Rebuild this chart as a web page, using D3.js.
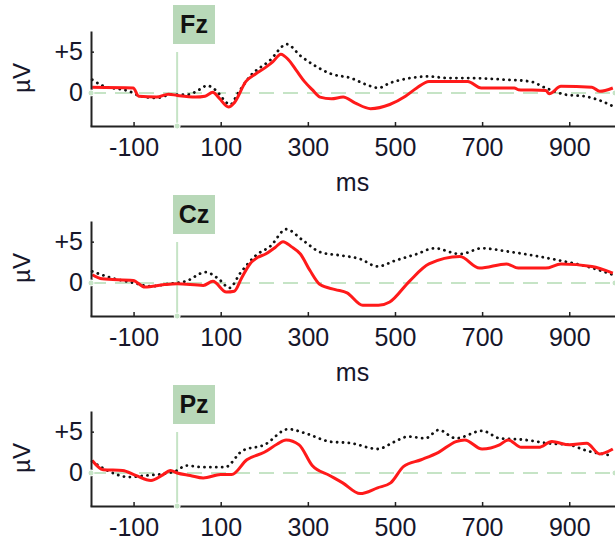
<!DOCTYPE html>
<html>
<head>
<meta charset="utf-8">
<script src="https://cdn.jsdelivr.net/npm/d3@7"></script>
<style>
  body { margin: 0; background: #fff; }
  svg { display: block; font-family: "Liberation Sans", Arial, sans-serif; }
</style>
</head>
<body>
<svg id="chart" width="615" height="541"></svg>
<script>
const channels = ["Fz", "Cz", "Pz"]
const xTickValues = [-100, 100, 300, 500, 700, 900]
const yTickValues = [0, 5]
const yTickLabels = ["0", "+5"]

// [ms, µV]
const fzRed = [[-195,0.7],[-101,0.6],[-88,-0.4],[-47,-0.5],[-20,-0.15],[0,-0.3],[42,-0.5],[64,-0.4],[82,0.1],[96,-0.6],[118,-1.7],[131,-1.2],[158,1.4],[180,2.3],[203,3.1],[220,3.8],[238,4.7],[256,4.0],[274,2.7],[292,1.4],[310,0.4],[328,-0.5],[354,-0.7],[381,-0.5],[408,-1.2],[444,-1.9],[488,-1.4],[524,-0.4],[550,0.6],[578,1.4],[667,1.4],[698,0.6],[774,0.6],[783,0.4],[846,0.3],[854,-0.1],[881,0.8],[952,0.7],[970,0.2],[1000,0.6]]
const fzBlack = [[-195,1.6],[-172,0.9],[-110,0.2],[-83,-0.4],[-47,-0.6],[-12,-0.2],[24,-0.2],[51,0.4],[69,0.9],[87,0.4],[122,-1.4],[140,0],[167,2.0],[212,3.9],[252,5.9],[283,4.5],[310,3.5],[354,2.3],[399,1.8],[435,1.0],[462,0.6],[488,1.2],[524,1.7],[578,2.0],[622,1.8],[667,1.8],[756,1.6],[810,1.4],[846,0.6],[891,-0.2],[935,-0.4],[970,-0.9],[1000,-1.6]]
const czRed = [[-195,1.0],[-172,0.5],[-101,0.3],[-74,-0.5],[-29,-0.2],[0,-0.1],[60,-0.3],[82,0.2],[113,-1.1],[131,-1.0],[148,0.6],[167,2.3],[185,3.1],[203,3.5],[225,4.3],[243,5.0],[262,4.4],[283,3.5],[305,1.5],[328,-0.2],[363,-0.8],[390,-1.2],[426,-2.7],[462,-2.7],[488,-2.3],[533,0.2],[578,2.3],[649,3.2],[694,1.8],[756,2.3],[783,1.8],[846,1.8],[881,2.3],[952,2.0],[1000,1.2]]
const czBlack = [[-195,1.4],[-150,0.6],[-100,0],[-60,-0.4],[-20,-0.1],[20,0.2],[65,1.3],[95,0.5],[120,-0.6],[145,1.2],[180,3.3],[215,4.5],[250,6.5],[290,5.1],[330,3.7],[380,3.3],[420,2.9],[460,2.0],[500,2.7],[550,3.5],[590,4.2],[650,3.5],[700,4.2],[760,3.8],[820,3.3],[880,2.7],[940,2.0],[1000,1.0]]
const pzRed = [[-195,1.5],[-170,0.4],[-125,0.3],[-95,-0.3],[-60,-0.9],[-35,-0.3],[-15,0.3],[0,0],[30,-0.3],[60,-0.6],[100,-0.2],[125,-0.2],[160,1.6],[200,2.5],[230,3.5],[250,4.0],[280,3.4],[310,0.9],[350,-0.3],[380,-1.2],[420,-2.5],[460,-1.8],[490,-1.2],[520,0.8],[560,1.6],[600,2.5],[640,3.8],[660,4.0],[700,2.9],[740,3.4],[760,4.0],[790,3.1],[830,3.1],[860,3.8],[900,3.4],[940,3.6],[970,2.3],[1000,2.9]]
const pzBlack = [[-195,1.4],[-160,0.3],[-110,-0.5],[-70,-0.3],[-30,-0.1],[0,0.3],[20,0.9],[60,0.7],[110,0.7],[150,2.7],[200,3.4],[255,5.3],[300,4.7],[350,3.8],[400,3.6],[460,2.9],[500,3.8],[530,4.4],[570,4.2],[600,5.2],[640,4.2],[700,5.1],[740,4.2],[800,4.0],[850,3.6],[900,3.4],[940,2.7],[1000,2.1]]

const redSeries = [fzRed, czRed, pzRed]
const blackSeries = [fzBlack, czBlack, pzBlack]

const panelTop = [0, 190, 380]
const green = "#c6e4c6"

var svg = d3.select("#chart")

var x = d3.scaleLinear()
    .domain([-200, 1005])
    .range([90, 615])

var y = d3.scaleLinear()
    .domain([-4, 7.5])
    .range([126, 31])

var line = d3.line()
    .x(d => x(d[0]))
    .y(d => y(d[1]))
    .curve(d3.curveMonotoneX)

channels.forEach((name, i) => {
    let g = svg.append("g").attr("transform", `translate(0,${panelTop[i]})`)

    // zero reference (dashed) and stimulus onset (solid)
    g.append("line")
        .attr("x1", x.range()[0] + 1).attr("x2", x.range()[1])
        .attr("y1", y(0)).attr("y2", y(0))
        .attr("stroke", green).attr("stroke-width", 2)
        .attr("stroke-dasharray", "15,9")
    g.append("line")
        .attr("x1", x(0)).attr("x2", x(0))
        .attr("y1", 52).attr("y2", y.range()[0])
        .attr("stroke", green).attr("stroke-width", 2)

    g.append("path")
        .datum(blackSeries[i])
        .attr("d", line)
        .attr("fill", "none")
        .attr("stroke", "#111")
        .attr("stroke-width", 2.8)
        .attr("stroke-linecap", "round")
        .attr("stroke-dasharray", "0.1,5.8")

    g.append("path")
        .datum(redSeries[i])
        .attr("d", line)
        .attr("fill", "none")
        .attr("stroke", "#ff1a1a")
        .attr("stroke-width", 3)
        .attr("stroke-linejoin", "round")

    let xAxis = g.append("g")
        .attr("transform", `translate(0,${y.range()[0]})`)
        .call(d3.axisBottom(x).tickValues(xTickValues).tickSizeInner(-4).tickSizeOuter(0).tickPadding(12)
            .tickFormat(d => String(d)))
    let yAxis = g.append("g")
        .attr("transform", `translate(${x.range()[0] + 1},0)`)
        .call(d3.axisLeft(y).tickValues(yTickValues).tickSizeInner(-3).tickSizeOuter(0).tickPadding(8)
            .tickFormat((d, k) => yTickLabels[k]))

    ;[xAxis, yAxis].forEach(a => {
        a.select(".domain").attr("stroke", "#222").attr("stroke-width", 2)
        a.selectAll(".tick line").attr("stroke", "#222").attr("stroke-width", 1.5)
        a.selectAll(".tick text").attr("fill", "#16162a").style("font-size", "25px")
            .style("font-family", "'Liberation Sans', Arial, sans-serif")
    })

    // end markers on the reference lines
    ;[[x.range()[0] + 1, y(0)], [x.range()[1], y(0)], [x(0), y.range()[0]]].forEach(p => {
        g.append("circle").attr("cx", p[0]).attr("cy", p[1]).attr("r", 3)
            .attr("fill", green).attr("stroke", "#fff").attr("stroke-width", 1)
    })

    g.append("rect")
        .attr("x", 173).attr("y", 5).attr("width", 42).attr("height", 39)
        .attr("fill", "#b8d8b8")
    g.append("text")
        .attr("x", 194).attr("y", 33)
        .attr("text-anchor", "middle")
        .style("font-size", "25px").style("font-weight", "bold")
        .attr("fill", "#111")
        .text(name)

    g.append("text")
        .attr("transform", `translate(30,${y(0) - 15}) rotate(-90)`)
        .attr("text-anchor", "middle")
        .style("font-size", "24px")
        .attr("fill", "#16162a")
        .text("µV")

    // the bottom panel's axis title falls below the picture
    if (panelTop[i] + 191 < 541) {
        g.append("text")
            .attr("x", (x.range()[0] + x.range()[1]) / 2)
            .attr("y", 191)
            .attr("text-anchor", "middle")
            .style("font-size", "25px")
            .attr("fill", "#16162a")
            .text("ms")
    }
})
</script>
</body>
</html>
